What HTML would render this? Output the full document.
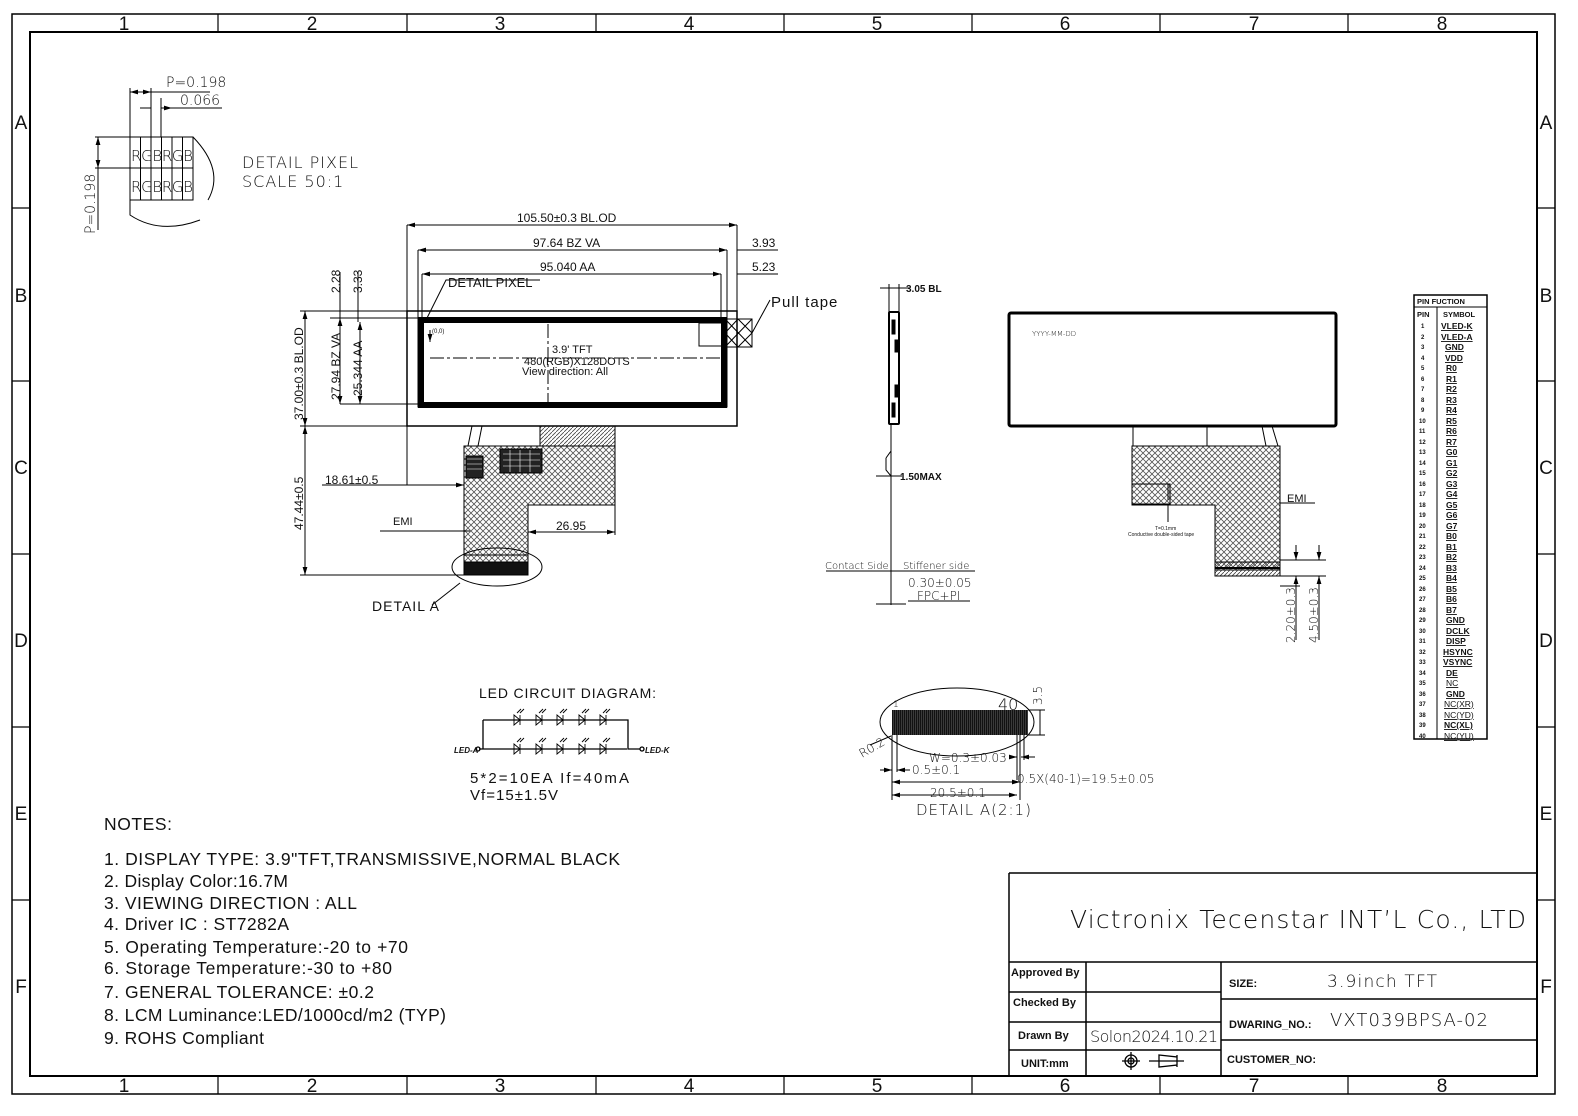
<!DOCTYPE html>
<html><head><meta charset="utf-8"><style>
html,body{margin:0;padding:0;background:#fff;width:1578px;height:1116px;overflow:hidden;}
svg{display:block;}
text{font-family:"Liberation Sans",sans-serif;fill:#111;}
.t{font-family:"DejaVu Sans","Liberation Sans",sans-serif;font-weight:300;}
.b{font-weight:bold;}
</style></head><body>
<svg width="1578" height="1116" viewBox="0 0 1578 1116" xmlns="http://www.w3.org/2000/svg">
<defs>
<pattern id="xh" width="6" height="6" patternUnits="userSpaceOnUse">
<path d="M0,0 L6,6 M6,0 L0,6" stroke="#555" stroke-width="0.8"/>
</pattern>
<pattern id="dh" width="4" height="4" patternUnits="userSpaceOnUse">
<path d="M0,4 L4,0" stroke="#444" stroke-width="0.8"/>
</pattern>
<pattern id="pins" width="2" height="10" patternUnits="userSpaceOnUse">
<rect width="2" height="10" fill="#111"/><rect x="1.4" width="0.4" height="10" fill="#777"/>
</pattern>
<marker id="ar" viewBox="0 0 10 6" refX="10" refY="3" markerWidth="8" markerHeight="5" orient="auto-start-reverse"><path d="M0,0 L10,3 L0,6z" fill="#000"/></marker>
</defs>
<g fill="none" stroke="#000">
<rect x="12" y="14" width="1543" height="1080" stroke-width="1.5"/>
<rect x="30" y="32" width="1507" height="1044" stroke-width="2"/>
<path d="M218,14V32M407,14V32M596,14V32M784,14V32M972,14V32M1160,14V32M1348,14V32
M218,1076V1094M407,1076V1094M596,1076V1094M784,1076V1094M972,1076V1094M1160,1076V1094M1348,1076V1094
M12,208H30M12,381H30M12,554H30M12,727H30M12,900H30
M1537,208H1555M1537,381H1555M1537,554H1555M1537,727H1555M1537,900H1555" stroke-width="1.2"/>
</g>
<g font-size="19" text-anchor="middle" class="t">
<text x="124" y="30">1</text><text x="312" y="30">2</text><text x="500" y="30">3</text><text x="689" y="30">4</text><text x="877" y="30">5</text><text x="1065" y="30">6</text><text x="1254" y="30">7</text><text x="1442" y="30">8</text>
<text x="124" y="1092">1</text><text x="312" y="1092">2</text><text x="500" y="1092">3</text><text x="689" y="1092">4</text><text x="877" y="1092">5</text><text x="1065" y="1092">6</text><text x="1254" y="1092">7</text><text x="1442" y="1092">8</text>
<text x="21" y="129">A</text><text x="21" y="302">B</text><text x="21" y="474">C</text><text x="21" y="647">D</text><text x="21" y="820">E</text><text x="21" y="993">F</text>
<text x="1546" y="129">A</text><text x="1546" y="302">B</text><text x="1546" y="474">C</text><text x="1546" y="647">D</text><text x="1546" y="820">E</text><text x="1546" y="993">F</text>
</g>

<!-- DETAIL PIXEL -->
<g fill="none" stroke="#000" stroke-width="1">
<path d="M130,137H193V200H130Z M130,168H193 M140.5,137V200M151,137V200M161.5,137V200M172,137V200M182.5,137V200"/>
<path d="M130,88V137M151,88V137M161,98V137 M130,92H210M151,92H151 M161,108H222 M95,137H130M95,168H130M98,137V230"/>
<path d="M193,137 Q225,170 208,200 M130,200 V215 Q160,235 200,220"/>
<path d="M130,92H151" marker-start="url(#ar)" marker-end="url(#ar)"/>
<path d="M140,108H151M161,108H172" marker-end="url(#ar)"/>
<path d="M98,137V168" marker-start="url(#ar)" marker-end="url(#ar)"/>
</g>
<text x="166" y="87" font-size="14" class="t">P=0.198</text>
<text x="180" y="105" font-size="14" class="t">0.066</text>
<text x="131" y="161" font-size="15" textLength="62" class="t">RGBRGB</text>
<text x="131" y="192" font-size="15" textLength="62" class="t">RGBRGB</text>
<text transform="translate(95,234) rotate(-90)" font-size="14" class="t">P=0.198</text>
<text x="242" y="168" font-size="16" class="t" letter-spacing="1">DETAIL PIXEL</text>
<text x="242" y="187" font-size="16" class="t" letter-spacing="1">SCALE 50:1</text>

<!-- FRONT VIEW -->
<g fill="none" stroke="#000" stroke-width="1">
<rect x="407" y="311" width="330" height="115" stroke-width="1.5"/>
<rect x="418" y="318" width="309" height="89"/>
<rect x="421" y="320" width="303" height="85" stroke-width="6"/>
<rect x="699" y="323" width="23" height="23"/>
<rect x="725" y="319" width="27" height="28"/>
<path d="M725,319L752,347M752,319L725,347M738,319L752,333M725,333L738,347M738,319L725,333M752,333L738,347"/>
<path d="M430,358H720" stroke-dasharray="14,3,3,3"/>
<path d="M548,324V402" stroke-dasharray="14,3,3,3"/>
<path d="M407,225V311M737,225V311M418,250V318M727,250V318M422,274V318M721,274V318"/>
<path d="M407,225H737" marker-start="url(#ar)" marker-end="url(#ar)"/>
<path d="M418,250H727" marker-start="url(#ar)" marker-end="url(#ar)"/>
<path d="M422,274H721" marker-start="url(#ar)" marker-end="url(#ar)"/>
<path d="M737,250H778M737,274H778M752,250H740" />
<path d="M300,311H407M300,426H464M330,318H418M340,404H418M300,575H464"/>
<path d="M305,311V426" marker-start="url(#ar)" marker-end="url(#ar)"/>
<path d="M305,426V575" marker-start="url(#ar)" marker-end="url(#ar)"/>
<path d="M340,318V404" marker-start="url(#ar)" marker-end="url(#ar)"/>
<path d="M360,322V404" marker-start="url(#ar)" marker-end="url(#ar)"/>
<path d="M340,272V318M358,272V322"/>
<path d="M425,322 L446,280 H540 M752,333 L770,300"/>
<path d="M430,330V342" marker-end="url(#ar)"/>
<path d="M468,446 L472,426 M478,446 L482,426"/>
<rect x="540" y="426" width="75" height="20" fill="url(#dh)"/>
<path d="M464,446 H615 V505 H528 V575 H464 Z" fill="url(#xh)"/>
<rect x="466" y="456" width="17" height="22" fill="#222"/>
<rect x="500" y="449" width="42" height="24" fill="#222"/>
<path d="M467,459H482M467,464H482M467,469H482M503,454H540M503,460H540M503,466H540M510,450V472M520,450V472M530,450V472" stroke="#fff" stroke-width="0.6"/>
<rect x="464" y="562" width="64" height="13" fill="#111"/>
<path d="M464,555H528"/>
<ellipse cx="497" cy="567" rx="45" ry="19"/>
<path d="M460,583 L432,605"/>
<path d="M407,485H464" marker-end="url(#ar)"/>
<path d="M407,426V485 M322,485H407"/>
<path d="M528,532H615" marker-start="url(#ar)" marker-end="url(#ar)"/>
<path d="M615,505V535"/>
<path d="M380,531H470"/>
</g>
<g class="t">
<text x="517" y="222" font-size="12">105.50±0.3 BL.OD</text>
<text x="533" y="247" font-size="12">97.64 BZ VA</text>
<text x="540" y="271" font-size="12">95.040 AA</text>
<text x="752" y="247" font-size="12">3.93</text>
<text x="752" y="271" font-size="12">5.23</text>
<text x="448" y="287" font-size="13">DETAIL PIXEL</text>
<text x="771" y="307" font-size="15" letter-spacing="1">Pull tape</text>
<text x="552" y="353" font-size="11">3.9' TFT</text>
<text x="524" y="365" font-size="11">480(RGB)X128DOTS</text>
<text x="522" y="375" font-size="11">View direction: All</text>
<text x="432" y="333" font-size="6">(0,0)</text>
<text transform="translate(303,420) rotate(-90)" font-size="12">37.00±0.3 BL.OD</text>
<text transform="translate(340,400) rotate(-90)" font-size="12">27.94 BZ VA</text>
<text transform="translate(362,396) rotate(-90)" font-size="12">25.344 AA</text>
<text transform="translate(340,293) rotate(-90)" font-size="12">2.28</text>
<text transform="translate(362,293) rotate(-90)" font-size="12">3.33</text>
<text transform="translate(303,530) rotate(-90)" font-size="12">47.44±0.5</text>
<text x="325" y="484" font-size="12">18.61±0.5</text>
<text x="556" y="530" font-size="12">26.95</text>
<text x="372" y="611" font-size="14" letter-spacing="1">DETAIL A</text>
</g>
<text x="393" y="525" font-size="11">EMI</text>

<!-- SIDE VIEW -->
<g fill="none" stroke="#000" stroke-width="1">
<rect x="889" y="312" width="10" height="112" rx="1" stroke-width="2"/>
<rect x="892" y="320" width="3" height="14" fill="#000"/><rect x="895" y="340" width="3" height="12" fill="#000"/><rect x="895" y="385" width="3" height="12" fill="#000"/><rect x="892" y="403" width="3" height="14" fill="#000"/>
<path d="M891,424V605 M886,458 L891,451 M886,458V470 L891,476"/>
<path d="M880,288H910 M889,284V312 M899,284V312"/>
<path d="M876,476H902 M876,604H906"/>
<path d="M826,571H975"/>
<path d="M908,601H970"/>
</g>
<text x="906" y="292" font-size="10" class="b">3.05 BL</text>
<text x="900" y="480" font-size="10" class="b">1.50MAX</text>
<text x="825" y="569" font-size="10" class="t">Contact Side</text>
<text x="903" y="569" font-size="10" class="t">Stiffener side</text>
<text x="908" y="587" font-size="12" class="t">0.30±0.05</text>
<text x="917" y="600" font-size="12" class="t">FPC+PI</text>

<!-- REAR VIEW -->
<g fill="none" stroke="#000" stroke-width="1">
<rect x="1009" y="313" width="327" height="113" rx="2" stroke-width="3"/>
<path d="M1133,426V446M1207,426V446M1262,426L1266,446M1272,426L1278,446"/>
<path d="M1132,446H1280V570H1215V505H1132Z" fill="url(#xh)"/>
<rect x="1132" y="484" width="38" height="20" fill="#fff"/>
<rect x="1132" y="484" width="38" height="20" fill="url(#xh)"/>
<path d="M1136,484H1168V500"/>
<path d="M1168,504V522"/>
<rect x="1215" y="562" width="65" height="14" fill="url(#dh)"/>
<path d="M1215,568H1280" stroke-width="2"/>
<path d="M1280,560H1326M1280,576H1326M1280,586H1300"/>
<path d="M1296,545V560" marker-end="url(#ar)"/><path d="M1296,600V576" marker-end="url(#ar)"/>
<path d="M1319,545V560" marker-end="url(#ar)"/><path d="M1319,600V576" marker-end="url(#ar)"/>
<path d="M1296,600V640M1319,600V640"/>
<path d="M1280,503H1315"/>
</g>
<text x="1032" y="336" font-size="7" class="t">YYYY-MM-DD</text>
<text x="1155" y="530" font-size="5">T=0.1mm</text>
<text x="1128" y="536" font-size="5">Conductive double-sided tape</text>
<text x="1287" y="502" font-size="11">EMI</text>
<text transform="translate(1295,643) rotate(-90)" font-size="12" class="t">2.20±0.3</text>
<text transform="translate(1318,643) rotate(-90)" font-size="12" class="t">4.50±0.3</text>

<!-- PIN TABLE -->
<g fill="none" stroke="#000" stroke-width="1">
<rect x="1414" y="295" width="73" height="444" stroke-width="1.5"/>
<path d="M1414,307H1487 M1437,307V739"/>
</g>
<text x="1417" y="304" font-size="7.5" class="b">PIN FUCTION</text>
<text x="1417" y="317" font-size="7.5" class="b">PIN</text>
<text x="1443" y="317" font-size="7.5" class="b">SYMBOL</text>
<g font-size="8.5">
<g class="b" font-size="6">
<text x="1421" y="328">1</text><text x="1421" y="339">2</text><text x="1421" y="349">3</text><text x="1421" y="360">4</text><text x="1421" y="370">5</text><text x="1421" y="381">6</text><text x="1421" y="391">7</text><text x="1421" y="402">8</text><text x="1421" y="412">9</text><text x="1419" y="423">10</text><text x="1419" y="433">11</text><text x="1419" y="444">12</text><text x="1419" y="454">13</text><text x="1419" y="465">14</text><text x="1419" y="475">15</text><text x="1419" y="486">16</text><text x="1419" y="496">17</text><text x="1419" y="507">18</text><text x="1419" y="517">19</text><text x="1419" y="528">20</text><text x="1419" y="538">21</text><text x="1419" y="549">22</text><text x="1419" y="559">23</text><text x="1419" y="570">24</text><text x="1419" y="580">25</text><text x="1419" y="591">26</text><text x="1419" y="601">27</text><text x="1419" y="612">28</text><text x="1419" y="622">29</text><text x="1419" y="633">30</text><text x="1419" y="643">31</text><text x="1419" y="654">32</text><text x="1419" y="664">33</text><text x="1419" y="675">34</text><text x="1419" y="685">35</text><text x="1419" y="696">36</text><text x="1419" y="706">37</text><text x="1419" y="717">38</text><text x="1419" y="727">39</text><text x="1419" y="738">40</text>
</g>
<g class="b" text-decoration="underline">
<text x="1441" y="329">VLED-K</text><text x="1441" y="340">VLED-A</text><text x="1445" y="350">GND</text><text x="1445" y="361">VDD</text><text x="1446" y="371">R0</text><text x="1446" y="382">R1</text><text x="1446" y="392">R2</text><text x="1446" y="403">R3</text><text x="1446" y="413">R4</text><text x="1446" y="424">R5</text><text x="1446" y="434">R6</text><text x="1446" y="445">R7</text><text x="1446" y="455">G0</text><text x="1446" y="466">G1</text><text x="1446" y="476">G2</text><text x="1446" y="487">G3</text><text x="1446" y="497">G4</text><text x="1446" y="508">G5</text><text x="1446" y="518">G6</text><text x="1446" y="529">G7</text><text x="1446" y="539">B0</text><text x="1446" y="550">B1</text><text x="1446" y="560">B2</text><text x="1446" y="571">B3</text><text x="1446" y="581">B4</text><text x="1446" y="592">B5</text><text x="1446" y="602">B6</text><text x="1446" y="613">B7</text><text x="1446" y="623">GND</text><text x="1446" y="634">DCLK</text><text x="1446" y="644">DISP</text><text x="1443" y="655">HSYNC</text><text x="1443" y="665">VSYNC</text><text x="1446" y="676">DE</text>
</g>
<g text-decoration="underline" font-weight="normal">
<text x="1446" y="686">NC</text><text x="1446" y="697" class="b">GND</text><text x="1444" y="707">NC(XR)</text><text x="1444" y="718">NC(YD)</text><text x="1444" y="728" class="b">NC(XL)</text><text x="1444" y="739">NC(YU)</text>
</g>
</g>

<!-- LED CIRCUIT -->
<text x="479" y="698" font-size="14" textLength="177">LED CIRCUIT DIAGRAM:</text>
<g fill="none" stroke="#000" stroke-width="1.3">
<path d="M483,720H628V749H640 M483,720V749H627 M479,749H483"/>
<circle cx="478" cy="749" r="2"/><circle cx="642" cy="749" r="2"/>
</g>
<g fill="none" stroke="#000" stroke-width="0.9">
<path d="M514,715l6,5l-6,5zM520,715v10 M536,715l6,5l-6,5zM542,715v10 M557,715l6,5l-6,5zM563,715v10 M579,715l6,5l-6,5zM585,715v10 M600,715l6,5l-6,5zM606,715v10"/>
<path d="M514,744l6,5l-6,5zM520,744v10 M536,744l6,5l-6,5zM542,744v10 M557,744l6,5l-6,5zM563,744v10 M579,744l6,5l-6,5zM585,744v10 M600,744l6,5l-6,5zM606,744v10"/>
<path d="M517,713l4,-4M520,713l4,-4M539,713l4,-4M542,713l4,-4M560,713l4,-4M563,713l4,-4M582,713l4,-4M585,713l4,-4M603,713l4,-4M606,713l4,-4"/>
<path d="M517,742l4,-4M520,742l4,-4M539,742l4,-4M542,742l4,-4M560,742l4,-4M563,742l4,-4M582,742l4,-4M585,742l4,-4M603,742l4,-4M606,742l4,-4"/>
</g>
<text x="454" y="753" font-size="8" font-style="italic" class="b" font-family="Liberation Serif">LED-A</text>
<text x="645" y="753" font-size="8" font-style="italic" class="b" font-family="Liberation Serif">LED-K</text>
<text x="470" y="783" font-size="15" textLength="159">5*2=10EA   If=40mA</text>
<text x="470" y="800" font-size="15" textLength="88">Vf=15±1.5V</text>

<!-- DETAIL A 2:1 -->
<g fill="none" stroke="#000" stroke-width="1">
<ellipse cx="957" cy="722" rx="77" ry="34"/>
<rect x="892" y="710" width="136" height="25" fill="url(#pins)" stroke="none"/>
<path d="M1028,710H1045M1028,735H1045M1040,710V735"/>
<path d="M892,735V800M1020,735V800M1024,735V760M1017,735V780"/>
<path d="M880,770H892" marker-end="url(#ar)"/><path d="M910,770H897" marker-end="url(#ar)"/>
<path d="M897,735V772"/>
<path d="M892,782H1020" marker-start="url(#ar)" marker-end="url(#ar)"/>
<path d="M892,795H1017" marker-start="url(#ar)" marker-end="url(#ar)"/>
<path d="M1010,757H1017" marker-end="url(#ar)"/><path d="M1035,757H1021" marker-end="url(#ar)"/>
<path d="M870,745 L891,736"/>
</g>
<text x="893" y="707" font-size="9" class="t">1</text>
<text x="998" y="710" font-size="16" class="t">40</text>
<text transform="translate(1042,705) rotate(-90)" font-size="12" class="t">3.5</text>
<text transform="translate(862,758) rotate(-30)" font-size="12" class="t">R0.2</text>
<text x="929" y="762" font-size="12" class="t">W=0.3±0.03</text>
<text x="912" y="774" font-size="12" class="t">0.5±0.1</text>
<text x="1017" y="783" font-size="12" class="t">0.5X(40-1)=19.5±0.05</text>
<text x="930" y="797" font-size="12" class="t">20.5±0.1</text>
<text x="916" y="815" font-size="15" class="t" letter-spacing="1">DETAIL A(2:1)</text>

<!-- NOTES -->
<g font-size="17.5">
<text x="104" y="830" textLength="68">NOTES:</text>
<text x="104" y="865" textLength="516">1. DISPLAY TYPE: 3.9"TFT,TRANSMISSIVE,NORMAL BLACK</text>
<text x="104" y="887" textLength="184">2. Display Color:16.7M</text>
<text x="104" y="909" textLength="253">3. VIEWING DIRECTION : ALL</text>
<text x="104" y="930" textLength="185">4. Driver IC : ST7282A</text>
<text x="104" y="953" textLength="304">5. Operating Temperature:-20  to +70</text>
<text x="104" y="974" textLength="288">6. Storage Temperature:-30  to +80</text>
<text x="104" y="998" textLength="270">7. GENERAL TOLERANCE: ±0.2</text>
<text x="104" y="1021" textLength="342">8. LCM Luminance:LED/1000cd/m2 (TYP)</text>
<text x="104" y="1044" textLength="160">9. ROHS Compliant</text>
</g>

<!-- TITLE BLOCK -->
<g fill="none" stroke="#000" stroke-width="1.5">
<path d="M1009,873H1537 M1009,873V1076 M1009,962H1537 M1009,992H1221 M1009,1022H1221 M1009,1050H1221 M1086,962V1076 M1221,962V1076 M1221,999H1537 M1221,1040H1537"/>
</g>
<text x="1070" y="928" font-size="25" class="t" textLength="456">Victronix Tecenstar INT’L Co., LTD</text>
<g font-size="11" class="b">
<text x="1011" y="976">Approved By</text>
<text x="1013" y="1006">Checked By</text>
<text x="1018" y="1039">Drawn By</text>
<text x="1021" y="1067">UNIT:mm</text>
<text x="1229" y="987">SIZE:</text>
<text x="1229" y="1028">DWARING_NO.:</text>
<text x="1227" y="1063">CUSTOMER_NO:</text>
</g>
<text x="1090" y="1042" font-size="16" class="t" textLength="128">Solon2024.10.21</text>
<text x="1327" y="987" font-size="17" class="t" textLength="110">3.9inch  TFT</text>
<text x="1330" y="1026" font-size="18" class="t" textLength="158">VXT039BPSA-02</text>
<g fill="none" stroke="#000" stroke-width="1.3">
<circle cx="1131" cy="1061" r="6"/><circle cx="1131" cy="1061" r="3"/><path d="M1131,1052V1070M1122,1061H1140"/>
<path d="M1149,1061H1184M1159,1055L1177,1057V1065L1159,1067Z M1177,1055V1067"/>
</g>
</svg>
</body></html>
